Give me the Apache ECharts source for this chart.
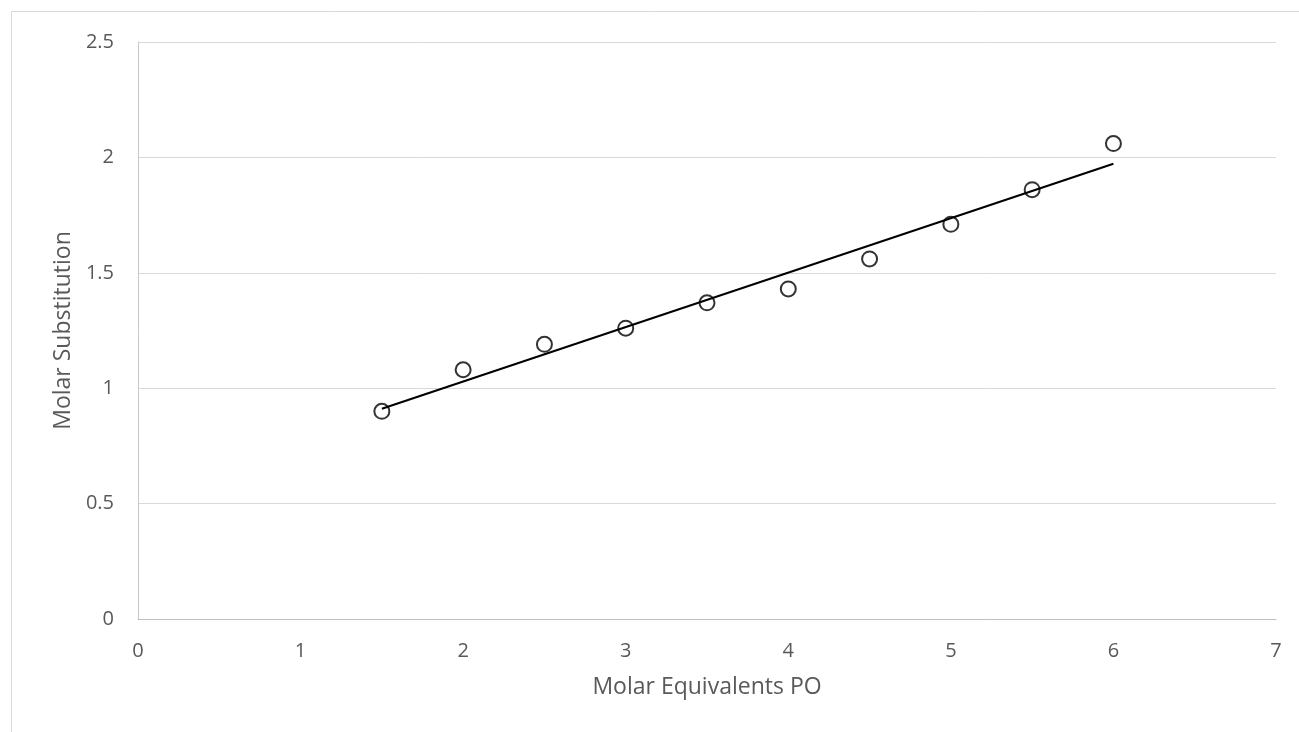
<!DOCTYPE html>
<html>
<head>
<meta charset="utf-8">
<script src="https://cdn.jsdelivr.net/npm/echarts@6/dist/echarts.min.js"></script>
<style>
  html, body { margin: 0; padding: 0; background: #ffffff; }
  #chart { width: 1299px; height: 732px; }
</style>
</head>
<body>
<div id="chart"></div>
<script>
// Molar equivalents of PO added (x) and measured molar substitution (y)
const molarEquivalents = [1.5, 2, 2.5, 3, 3.5, 4, 4.5, 5, 5.5, 6];
const molarSubstitution = [0.90, 1.08, 1.19, 1.26, 1.37, 1.43, 1.56, 1.71, 1.86, 2.06];

const xTicks = { min: 0, max: 7, interval: 1 };
const yTicks = { min: 0, max: 2.5, interval: 0.5 };

// Least-squares linear trendline through the measured points
function linearFit(xs, ys) {
  const n = xs.length;
  const mx = xs.reduce((a, b) => a + b, 0) / n;
  const my = ys.reduce((a, b) => a + b, 0) / n;
  let sxy = 0, sxx = 0;
  for (let i = 0; i < n; i++) {
    sxy += (xs[i] - mx) * (ys[i] - my);
    sxx += (xs[i] - mx) * (xs[i] - mx);
  }
  const slope = sxy / sxx;
  return { slope, intercept: my - slope * mx };
}
const fit = linearFit(molarEquivalents, molarSubstitution);
const xFirst = molarEquivalents[0];
const xLast = molarEquivalents[molarEquivalents.length - 1];
const trendPoints = [
  [xFirst, fit.intercept + fit.slope * xFirst],
  [xLast, fit.intercept + fit.slope * xLast]
];

const points = molarEquivalents.map((x, i) => [x, molarSubstitution[i]]);

const FONT = '"Open Sans", "Liberation Sans", sans-serif';
const TEXT = '#595959';

const chart = echarts.init(document.getElementById('chart'), null, { renderer: 'canvas' });
chart.setOption({
  backgroundColor: '#ffffff',
  animation: false,
  graphic: [{
    type: 'rect',
    silent: true,
    shape: { x: 11.5, y: 11.5, width: 1400, height: 1000 },
    style: { fill: 'none', stroke: '#d9d9d9', lineWidth: 1 }
  }],
  grid: {
    left: 138, right: 23, top: 42, bottom: 113,
    containLabel: false,
    outerBoundsMode: 'none'
  },
  xAxis: {
    type: 'value',
    min: xTicks.min, max: xTicks.max, interval: xTicks.interval,
    name: 'Molar Equivalents PO',
    nameLocation: 'middle',
    nameGap: 57,
    nameTextStyle: { color: TEXT, fontFamily: FONT, fontSize: 23 },
    axisLine: { show: true, lineStyle: { color: '#bfbfbf', width: 1 } },
    axisTick: { show: false },
    splitLine: { show: false },
    axisLabel: { color: TEXT, fontFamily: FONT, fontSize: 20, margin: 22 }
  },
  yAxis: {
    type: 'value',
    min: yTicks.min, max: yTicks.max, interval: yTicks.interval,
    name: 'Molar Substitution',
    nameLocation: 'middle',
    nameGap: 61,
    nameTextStyle: { color: TEXT, fontFamily: FONT, fontSize: 23 },
    axisLine: { show: true, lineStyle: { color: '#c8c8c8', width: 1 } },
    axisTick: { show: false },
    splitLine: { show: true, lineStyle: { color: '#d9d9d9', width: 1 } },
    axisLabel: { color: TEXT, fontFamily: FONT, fontSize: 20, margin: 24 }
  },
  series: [
    {
      name: 'Molar Substitution',
      type: 'scatter',
      data: points,
      symbol: 'circle',
      symbolSize: 15,
      itemStyle: { color: 'rgba(0,0,0,0)', borderColor: '#000000', borderWidth: 2 },
      z: 3
    },
    {
      name: 'Linear fit',
      type: 'line',
      data: trendPoints,
      symbol: 'none',
      lineStyle: { color: '#000000', width: 2 },
      z: 4
    }
  ]
});
</script>
</body>
</html>
